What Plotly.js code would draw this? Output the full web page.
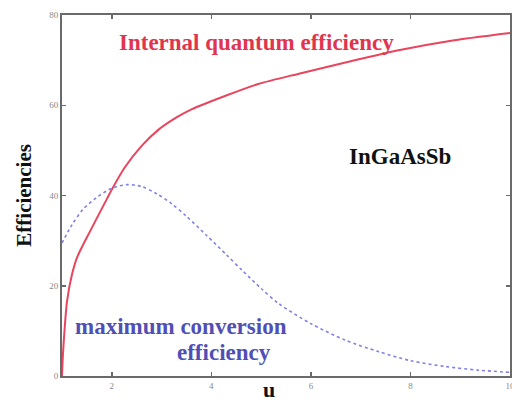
<!DOCTYPE html>
<html>
<head>
<meta charset="utf-8">
<script src="https://cdn.plot.ly/plotly-3.0.1.min.js"></script>
<style>html,body{margin:0;padding:0;background:#fff;}#chart{width:512px;height:403px;}</style>
</head>
<body>
<div id="chart"></div>
<script>
// Internal quantum efficiency (red, solid)
const iqeU = [1.0, 1.02, 1.05, 1.1, 1.2, 1.3, 1.56, 1.9, 2.0, 2.26, 2.6, 2.94, 3.3, 3.6, 4.26, 4.94, 5.76, 6.82, 7.76, 8.76, 10.0];
const iqeV = [0.0, 5.0, 10.0, 16.5, 22.5, 26.2, 32.0, 39.2, 41.3, 46.2, 51.0, 54.6, 57.3, 59.1, 62.0, 64.7, 67.0, 69.8, 72.2, 74.2, 76.0];
// Maximum conversion efficiency (blue, dotted)
const mceU = [1.0, 1.2, 1.42, 1.7, 2.0, 2.3, 2.6, 2.9, 3.2, 3.5, 3.9, 4.3, 4.62, 5.0, 5.36, 6.0, 6.7, 7.36, 8.0, 8.7, 9.36, 10.0];
const mceV = [29.5, 33.5, 36.9, 39.6, 41.6, 42.4, 42.0, 40.4, 38.2, 35.4, 31.2, 26.9, 23.4, 19.4, 16.0, 11.6, 7.9, 5.4, 3.4, 2.1, 1.3, 0.8];
const xTicks = [2, 4, 6, 8, 10];
const yTicks = [0, 20, 40, 60, 80];

const serif = 'Liberation Serif, Times New Roman, serif';

const traces = [
  {x: iqeU, y: iqeV, type: 'scatter', mode: 'lines', line: {color: '#e8455e', width: 2, shape: 'spline', smoothing: 0.8}, hoverinfo: 'skip'},
  {x: mceU, y: mceV, type: 'scatter', mode: 'lines', line: {color: '#8282e4', width: 1.6, dash: 'dot', shape: 'spline', smoothing: 0.8}, hoverinfo: 'skip'}
];

const axisCommon = {
  showgrid: false, zeroline: false, showline: true, linecolor: '#6a6a6a', linewidth: 2,
  mirror: 'ticks', ticks: 'inside', ticklen: 4, tickwidth: 1.5, tickcolor: '#6a6a6a',
  tickfont: {family: serif, size: 9, color: '#8a8a8a'}, ticklabeloverflow: 'allow'
};

const layout = {
  width: 512, height: 403,
  margin: {l: 62, r: 2, t: 15, b: 27},
  paper_bgcolor: '#ffffff', plot_bgcolor: '#ffffff',
  showlegend: false,
  xaxis: Object.assign({}, axisCommon, {range: [1, 10], tickvals: xTicks, ticktext: xTicks.map(String)}),
  yaxis: Object.assign({}, axisCommon, {range: [0, 80], tickvals: yTicks, ticktext: yTicks.map(String)}),
  annotations: [
    {xref: 'paper', yref: 'paper', x: 0.435, y: 0.925, xanchor: 'center', yanchor: 'middle',
     text: '<b>Internal quantum efficiency</b>', showarrow: false,
     font: {family: serif, size: 23, color: '#e0344f'}},
    {xref: 'paper', yref: 'paper', x: 0.755, y: 0.607, xanchor: 'center', yanchor: 'middle',
     text: '<b>InGaAsSb</b>', showarrow: false,
     font: {family: serif, size: 23, color: '#111'}},
    {xref: 'paper', yref: 'paper', x: 0.024, y: 0.136, xanchor: 'left', yanchor: 'middle',
     text: '<b>maximum conversion</b>', showarrow: false,
     font: {family: serif, size: 23, color: '#4f4fb5'}},
    {xref: 'paper', yref: 'paper', x: 0.362, y: 0.066, xanchor: 'center', yanchor: 'middle',
     text: '<b>efficiency</b>', showarrow: false,
     font: {family: serif, size: 23, color: '#4f4fb5'}},
    {xref: 'paper', yref: 'paper', x: 0.462, y: -0.0748, xanchor: 'center', yanchor: 'bottom',
     text: '<b>u</b>', showarrow: false, borderpad: 0,
     font: {family: serif, size: 22, color: '#111'}},
    {xref: 'paper', yref: 'paper', x: -0.085, y: 0.502, xanchor: 'center', yanchor: 'middle', textangle: -90,
     text: '<b>Efficiencies</b>', showarrow: false,
     font: {family: serif, size: 21, color: '#111'}}
  ]
};

Plotly.newPlot('chart', traces, layout, {staticPlot: true, displayModeBar: false});
</script>
</body>
</html>
